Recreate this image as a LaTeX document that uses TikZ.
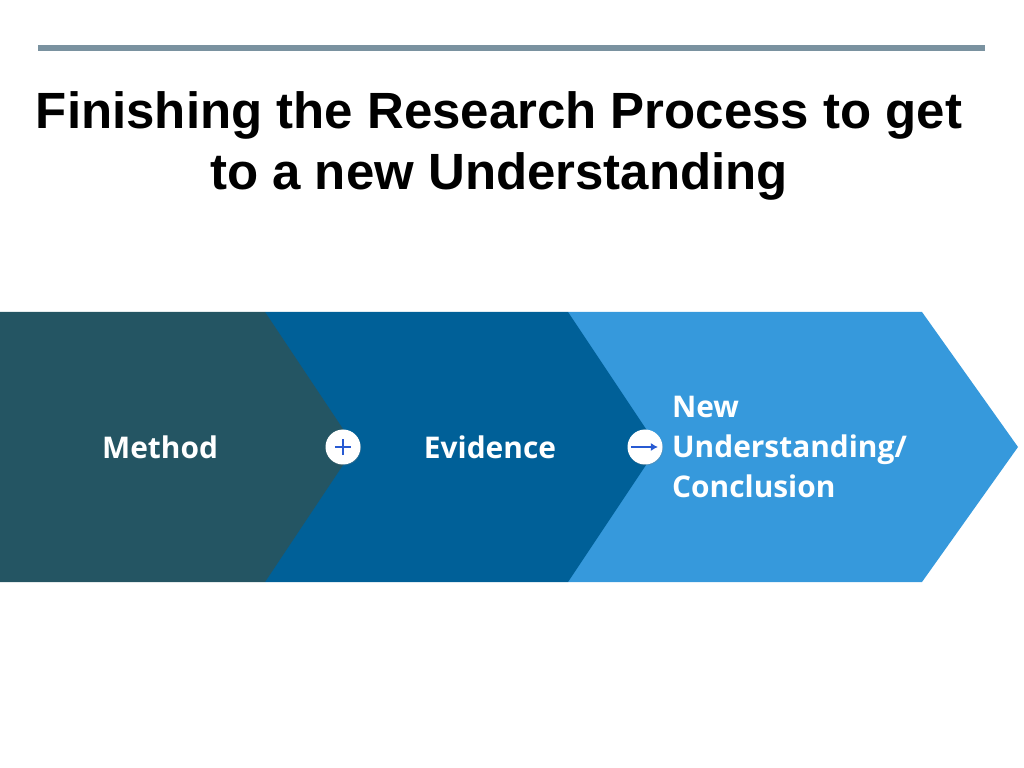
\documentclass[tikz,border=0pt]{standalone}
\usepackage{fontspec}
\setmainfont{Liberation Sans}
\newfontfamily\labelfont{Open Sans}
\usetikzlibrary{arrows.meta, shadows}
\definecolor{rule}{RGB}{122,146,160}
\definecolor{stepone}{RGB}{36,85,99}
\definecolor{steptwo}{RGB}{0,96,152}
\definecolor{stepthree}{RGB}{54,153,220}
\definecolor{iconblue}{RGB}{40,90,210}
\tikzset{
    chevron/.style={draw=none},
    steplabel/.style={text=white, font=\labelfont\bfseries\fontsize{25.5}{34}\selectfont, align=left},
    badge/.style={circle, fill=white, minimum size=1.05cm, inner sep=0pt, drop shadow={opacity=0.3, shadow xshift=0.5pt, shadow yshift=-0.8pt}}
}
\begin{document}
\begin{tikzpicture}[x=0.03cm, y=-0.03cm]
    \useasboundingbox (0,0) rectangle (1024,768);
    % Top rule
    \draw[rule, line width=5pt] (38,48) -- (985,48);
    % Title
    \node[font=\bfseries\fontsize{43.5}{52}\selectfont, align=center] (title) at (499,146) {Finishing the Research Process to get\\to a new Understanding};
    % Chevrons
    \fill[stepthree, chevron] (568,312) -- (922,312) -- (1018,447) -- (922,582) -- (568,582) -- cycle;
    \fill[steptwo, chevron] (265,312) -- (568,312) -- (658,447) -- (568,582) -- (265,582) -- cycle;
    \fill[stepone, chevron] (0,312) -- (265,312) -- (355,447) -- (265,582) -- (0,582) -- cycle;
    % Labels
    \node[steplabel] (method) at (160,447) {Method};
    \node[steplabel] (evidence) at (490,447) {Evidence};
    \node[steplabel, anchor=west] (newund) at (668,447) {New\\Understanding/\\Conclusion};
    % Badges
    \node[badge] (plus) at (343,447) {};
    \draw[iconblue, line width=1.2pt] ([xshift=-7pt]plus.center) -- ([xshift=7pt]plus.center)
        ([yshift=-7pt]plus.center) -- ([yshift=7pt]plus.center);
    \node[badge] (arrow) at (645,447) {};
    \draw[iconblue, line width=2pt, -{Latex[length=6pt,width=7pt]}] ([xshift=-12pt]arrow.center) -- ([xshift=11pt]arrow.center);
\end{tikzpicture}
\end{document}
